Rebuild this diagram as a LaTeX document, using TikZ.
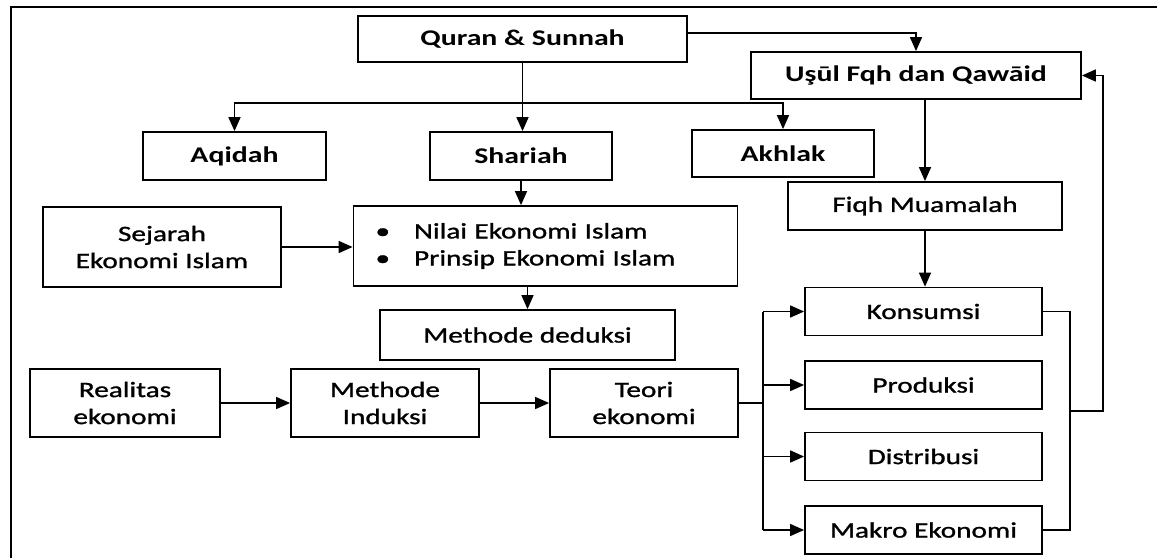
\documentclass[tikz,border=0pt]{standalone}
\usepackage{fontspec}
\setmainfont{Carlito}[FakeStretch=1.33]
\newfontfamily\semifont{Carlito}[FakeStretch=1.33, FakeBold=1.2]
\usetikzlibrary{arrows.meta}

\begin{document}
\begin{tikzpicture}[x=0.5pt,y=-0.5pt,line width=0.8pt,
  font=\fontsize{11}{13.5}\selectfont\semifont,
  box/.style={draw, line width=0.9pt, minimum height=24pt, inner sep=2pt},
  head/.style={box, font=\fontsize{11.2}{13.5}\selectfont\rmfamily\bfseries},
  arr/.style={-{Triangle[length=7pt,width=6pt]}}]

  \useasboundingbox (0,0) rectangle (1157,558);
  \draw[line width=1pt] (1157,7) -- (11,7) -- (11,558);

  \node[head, minimum width=164.5pt, minimum height=23pt] (quran) at (522.5,39) {Quran \& Sunnah};
  \node[head, minimum width=165pt, minimum height=23.5pt] (usul) at (916,75.5) {Uşūl Fqh dan Qawāid};
  \node[head, minimum width=91.5pt] (aqidah) at (234.5,156) {Aqidah};
  \node[head, minimum width=91pt] (shariah) at (521,156) {Shariah};
  \node[head, minimum width=91pt, minimum height=23.5pt] (akhlak) at (783,153.5) {Akhlak};
  \node[box, minimum width=137pt] (fiqh) at (925,206) {Fiqh Muamalah};
  \node[box, minimum width=119pt, minimum height=40pt, align=center] (sejarah) at (162,247) {Sejarah\\Ekonomi Islam};
  \node[box, text width=170pt, inner xsep=11pt, minimum height=40pt, align=left] (nilai) at (545.5,246)
    {\textbullet\hspace{12pt}Nilai Ekonomi Islam\\\textbullet\hspace{12pt}Prinsip Ekonomi Islam};
  \node[box, minimum width=147.5pt, minimum height=25pt] (deduksi) at (527.5,335) {Methode deduksi};
  \node[box, minimum width=95pt, minimum height=34pt, align=center] (realitas) at (125,403) {Realitas\\ekonomi};
  \node[box, minimum width=94pt, minimum height=34pt, align=center] (induksi) at (385,403) {Methode\\Induksi};
  \node[box, minimum width=94pt, minimum height=34pt, align=center] (teori) at (644,403) {Teori\\ekonomi};
  \foreach \n/\y/\t in {konsumsi/311.5/Konsumsi, produksi/385/Produksi,
    distribusi/456.5/Distribusi, makro/530/Makro Ekonomi}
    \node[box, minimum width=118.5pt] (\n) at (923.5,\y) {\t};

  \coordinate (split) at (522.5,103);
  \draw[arr] (quran.south) -- (quran.south |- shariah.north);
  \draw[arr] (split) -| (aqidah.north);
  \draw[arr] (split) -| (akhlak.north);
  \draw[arr] ([yshift=3pt]quran.east) -| (usul.north);
  \draw[arr] (shariah.south) -- (shariah.south |- nilai.north);
  \draw[arr] (sejarah.east) -- (sejarah.east -| nilai.west);
  \draw[arr] (deduksi.north |- nilai.south) -- (deduksi.north);
  \draw[arr] (fiqh.north |- usul.south) -- (fiqh.north);
  \draw[arr] (fiqh.south) -- (fiqh.south |- konsumsi.north);
  \draw[arr] (realitas) -- (induksi);
  \draw[arr] (induksi) -- (teori);

  \coordinate (fork) at (763,403);
  \draw (teori.east) -- (fork);
  \draw (fork |- konsumsi.west) -- (fork |- makro.west);
  \foreach \n in {konsumsi,produksi,distribusi,makro}
    \draw[arr] (fork |- \n.west) -- (\n.west);

  \coordinate (join) at (1070,411);
  \coordinate (back) at (1103,411);
  \draw (konsumsi.east) -| (join |- makro.east) -- (makro.east);
  \draw[arr] (join) -- (back) |- (usul.east);
\end{tikzpicture}
\end{document}
